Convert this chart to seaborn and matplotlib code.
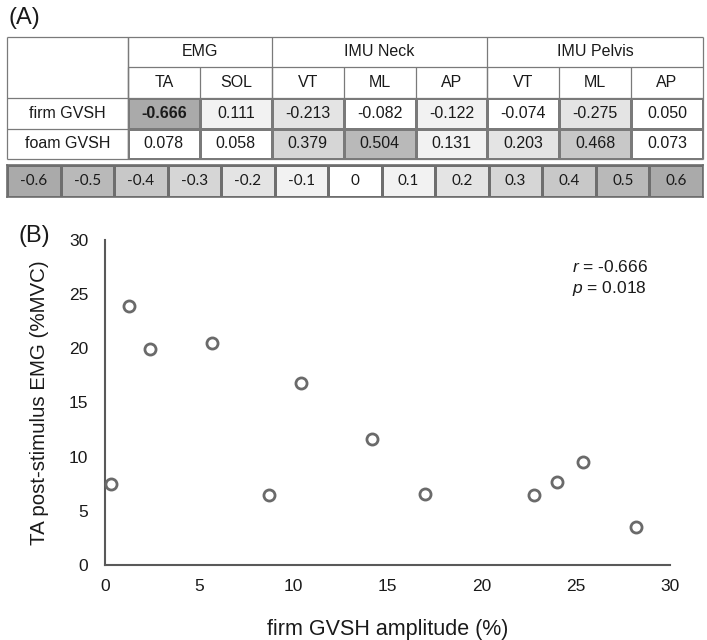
import numpy as np
import pandas as pd
import matplotlib
matplotlib.use('Agg')
import matplotlib.pyplot as plt
from matplotlib.colors import ListedColormap
import seaborn as sns

# ---- data ----
groups = ['EMG', 'IMU Neck', 'IMU Pelvis']
group_sizes = [2, 3, 3]
sub_cols = ['TA', 'SOL', 'VT', 'ML', 'AP', 'VT', 'ML', 'AP']
row_names = ['firm GVSH', 'foam GVSH']
firm_vals = [-0.666, 0.111, -0.213, -0.082, -0.122, -0.074, -0.275, 0.050]
foam_vals = [0.078, 0.058, 0.379, 0.504, 0.131, 0.203, 0.468, 0.073]
scale_vals = [-0.6, -0.5, -0.4, -0.3, -0.2, -0.1, 0, 0.1, 0.2, 0.3, 0.4, 0.5, 0.6]
scale_labels = ['-0.6', '-0.5', '-0.4', '-0.3', '-0.2', '-0.1', '0',
                '0.1', '0.2', '0.3', '0.4', '0.5', '0.6']

amp = [0.3, 1.3, 2.4, 5.7, 8.7, 10.4, 14.2, 17.0, 22.8, 24.0, 25.4, 28.2]
ta_emg = [7.5, 23.9, 19.9, 20.5, 6.5, 16.8, 11.6, 6.6, 6.5, 7.7, 9.5, 3.5]

sns.set_style('white')
plt.rcParams['font.family'] = ['Liberation Sans', 'DejaVu Sans']
plt.rcParams['mathtext.fontset'] = 'custom'
plt.rcParams['mathtext.it'] = 'Liberation Sans:italic'
plt.rcParams['mathtext.rm'] = 'Liberation Sans'

W, H = 707, 640
fig = plt.figure(figsize=(W / 100, H / 100), dpi=100)

grays = ['#ffffff', '#f2f2f2', '#e4e4e4', '#d6d6d6', '#c8c8c8', '#b9b9b9', '#aaaaaa']
cmap = ListedColormap(grays)
line_c = '#7a7a7a'


def level(v):
    return np.minimum(np.floor(np.abs(np.asarray(v, dtype=float)) * 10 + 1e-9), 6)


def px_axes(x0, y0, x1, y1):
    return fig.add_axes([x0 / W, 1 - y1 / H, (x1 - x0) / W, (y1 - y0) / H])


# table geometry (pixels)
tx0, tx1, cx0 = 7, 703, 128
ry = [37, 67, 98, 129, 159]
col_edges = np.linspace(cx0, tx1, len(sub_cols) + 1)

# value block
vals = np.array([firm_vals, foam_vals])
annot = np.array([[f'{v:.3f}' for v in r] for r in vals])
axv = px_axes(cx0, ry[2], tx1, ry[4])
sns.heatmap(level(vals), ax=axv, cmap=cmap, vmin=-0.5, vmax=6.5, cbar=False,
            annot=annot, fmt='', linewidths=0.8, linecolor=line_c,
            annot_kws={'fontsize': 11.5, 'color': '#1a1a1a'},
            xticklabels=False, yticklabels=False)
for t in axv.texts:
    if t.get_text() == '-0.666':
        t.set_fontweight('bold')

# grayscale key
axs = px_axes(tx0, 165, tx1, 197)
sns.heatmap(level([scale_vals]), ax=axs, cmap=cmap, vmin=-0.5, vmax=6.5, cbar=False,
            annot=np.array([scale_labels]), fmt='', linewidths=1.0, linecolor='#6e6e6e',
            annot_kws={'fontsize': 11, 'color': '#1a1a1a', 'family': 'Lato'},
            xticklabels=False, yticklabels=False)
for s in axs.spines.values():
    s.set_visible(True)
    s.set_color('#6e6e6e')
    s.set_linewidth(1.2)

# overlay for headers and table lines
ov = fig.add_axes([0, 0, 1, 1])
ov.set_xlim(0, W)
ov.set_ylim(H, 0)
ov.axis('off')
lw = 0.9
ov.hlines(ry[0], tx0, tx1, color=line_c, lw=lw)
ov.hlines(ry[1], cx0, tx1, color=line_c, lw=lw)
for y in ry[2:]:
    ov.hlines(y, tx0, tx1, color=line_c, lw=lw)
ov.vlines([tx0, tx1, cx0], ry[0], ry[4], color=line_c, lw=lw)
gstart = 0
for g, n in zip(groups, group_sizes):
    gx0, gx1 = col_edges[gstart], col_edges[gstart + n]
    ov.vlines(gx0, ry[0], ry[4], color=line_c, lw=lw)
    ov.text((gx0 + gx1) / 2, (ry[0] + ry[1]) / 2, g, ha='center', va='center',
            fontsize=11.5, color='#1a1a1a')
    gstart += n
for i, c in enumerate(sub_cols):
    ov.vlines(col_edges[i], ry[1], ry[4], color=line_c, lw=lw)
    ov.text((col_edges[i] + col_edges[i + 1]) / 2, (ry[1] + ry[2]) / 2, c,
            ha='center', va='center', fontsize=11.5, color='#1a1a1a')
for i, r in enumerate(row_names):
    ov.text((tx0 + cx0) / 2, (ry[2 + i] + ry[3 + i]) / 2, r, ha='center', va='center',
            fontsize=11.5, color='#1a1a1a')
ov.text(8, 18, '(A)', fontsize=17, ha='left', va='center', color='#1a1a1a')
ov.text(18, 236, '(B)', fontsize=17, ha='left', va='center', color='#1a1a1a')

# scatter panel
ax = px_axes(105, 240, 670, 565)
sns.scatterplot(x=amp, y=ta_emg, ax=ax, marker='o', s=64, color='white',
                edgecolor='#6a6a6a', linewidth=2.0, zorder=3, clip_on=False)
ax.set_xlim(0, 30)
ax.set_ylim(0, 30)
ax.set_xticks(range(0, 31, 5))
ax.set_yticks(range(0, 31, 5))
ax.tick_params(length=0, labelsize=12.5, colors='#1a1a1a')
ax.tick_params(axis='x', pad=10)
ax.tick_params(axis='y', pad=12)
for side in ['top', 'right']:
    ax.spines[side].set_visible(False)
for side in ['left', 'bottom']:
    ax.spines[side].set_color('#595959')
    ax.spines[side].set_linewidth(1.5)
ax.set_xlabel('firm GVSH amplitude (%)', fontsize=15.5, color='#1a1a1a', labelpad=18)
ax.set_ylabel('TA post-stimulus EMG (%MVC)', fontsize=14.8, color='#1a1a1a', labelpad=14)
ax.text(0.826, 0.917, r'$\mathit{r}$ = -0.666', transform=ax.transAxes,
        fontsize=12.5, ha='left', va='center', color='#1a1a1a')
ax.text(0.826, 0.85, r'$\mathit{p}$ = 0.018', transform=ax.transAxes,
        fontsize=12.5, ha='left', va='center', color='#1a1a1a')

fig.savefig('out.png', dpi=100)
